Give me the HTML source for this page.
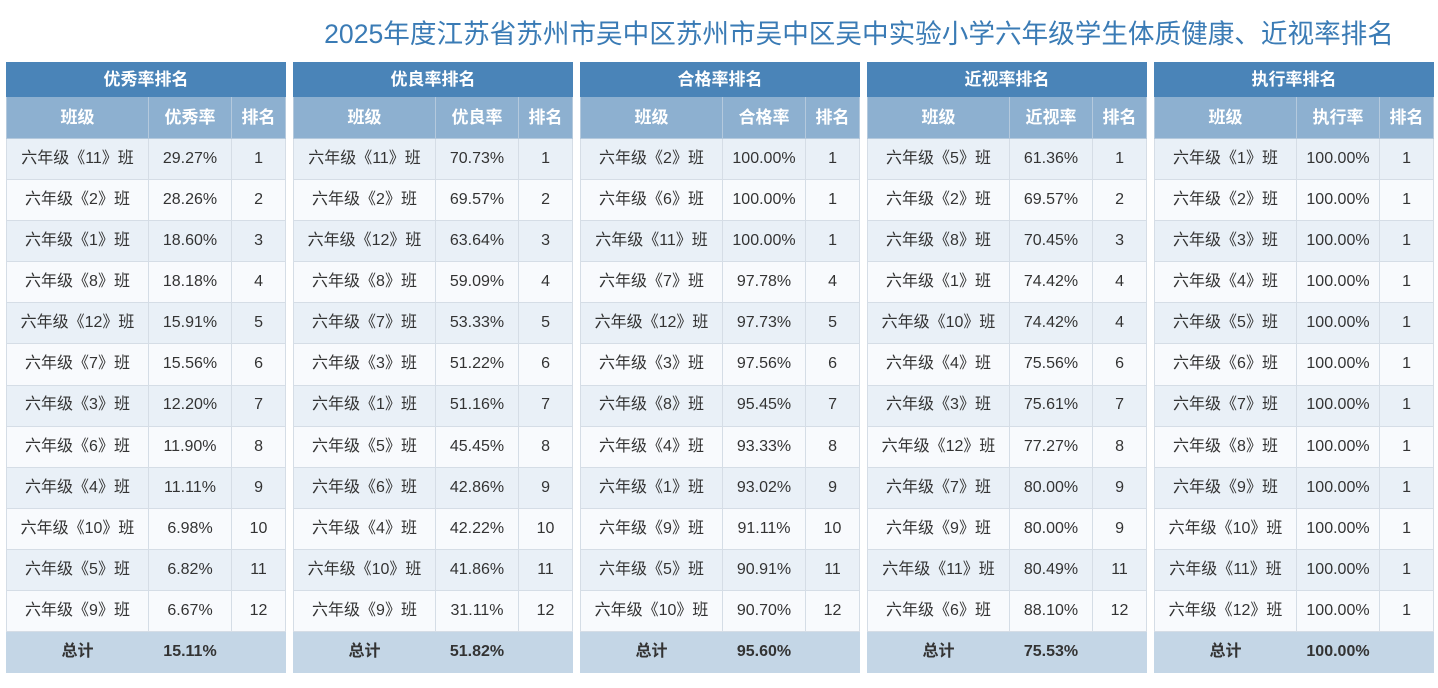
<!DOCTYPE html>
<html><head><meta charset="utf-8"><style>
body{margin:0;width:1438px;height:688px;background:#fff;position:relative;overflow:hidden;font-family:"Liberation Sans","Noto Sans CJK SC",sans-serif}
.title{position:absolute;left:300px;width:1118px;top:16px;text-align:center;font-size:26.6px;color:#3a7bb5;white-space:nowrap;line-height:36px}
table{position:absolute;top:62px;width:279px;border-collapse:collapse;table-layout:fixed;font-size:16px;color:#333;line-height:20px}
td,th{text-align:center;vertical-align:middle;padding:0;border:1px solid #d5dde6;white-space:nowrap;overflow:hidden}
td span,th span{display:inline-block;line-height:20px;height:20px;vertical-align:middle}
th.h1{background:#4a84b8;color:#fff;height:33px;font-size:17px;border-color:#4a84b8}
tr.h2 th{background:#8db0d0;color:#fff;height:41px;border-color:#b4c9dd;font-size:17px}
tr.d td{height:40.1px}
tr.d:nth-child(odd) td{background:#e9f0f7}
tr.d:nth-child(even) td{background:#f8fafd}
tr.t td{background:#c4d6e6;font-weight:bold;height:40px;border-color:#c4d6e6}
</style></head><body>
<div class="title">2025年度江苏省苏州市吴中区苏州市吴中区吴中实验小学六年级学生体质健康、近视率排名</div>
<div id="w"></div>
<script>
const T=[
["优秀率排名","优秀率",[["11","29.27%",1],["2","28.26%",2],["1","18.60%",3],["8","18.18%",4],["12","15.91%",5],["7","15.56%",6],["3","12.20%",7],["6","11.90%",8],["4","11.11%",9],["10","6.98%",10],["5","6.82%",11],["9","6.67%",12]],"15.11%"],
["优良率排名","优良率",[["11","70.73%",1],["2","69.57%",2],["12","63.64%",3],["8","59.09%",4],["7","53.33%",5],["3","51.22%",6],["1","51.16%",7],["5","45.45%",8],["6","42.86%",9],["4","42.22%",10],["10","41.86%",11],["9","31.11%",12]],"51.82%"],
["合格率排名","合格率",[["2","100.00%",1],["6","100.00%",1],["11","100.00%",1],["7","97.78%",4],["12","97.73%",5],["3","97.56%",6],["8","95.45%",7],["4","93.33%",8],["1","93.02%",9],["9","91.11%",10],["5","90.91%",11],["10","90.70%",12]],"95.60%"],
["近视率排名","近视率",[["5","61.36%",1],["2","69.57%",2],["8","70.45%",3],["1","74.42%",4],["10","74.42%",4],["4","75.56%",6],["3","75.61%",7],["12","77.27%",8],["7","80.00%",9],["9","80.00%",9],["11","80.49%",11],["6","88.10%",12]],"75.53%"],
["执行率排名","执行率",[["1","100.00%",1],["2","100.00%",1],["3","100.00%",1],["4","100.00%",1],["5","100.00%",1],["6","100.00%",1],["7","100.00%",1],["8","100.00%",1],["9","100.00%",1],["10","100.00%",1],["11","100.00%",1],["12","100.00%",1]],"100.00%"]];
let h="";
const s=x=>`<span>${x}</span>`;
T.forEach((t,i)=>{
h+=`<table style="left:${6+i*287}px"><colgroup><col style="width:142px"><col style="width:83px"><col style="width:54px"></colgroup><tr><th class="h1" colspan="3">${s(t[0])}</th></tr><tr class="h2"><th>${s("班级")}</th><th>${s(t[1])}</th><th>${s("排名")}</th></tr>`;
t[2].forEach(r=>{h+=`<tr class="d"><td>${s("六年级《"+r[0]+"》班")}</td><td>${s(r[1])}</td><td>${s(r[2])}</td></tr>`});
h+=`<tr class="t"><td>${s("总计")}</td><td>${s(t[3])}</td><td></td></tr></table>`;
});
document.getElementById("w").innerHTML=h;
</script>
</body></html>
